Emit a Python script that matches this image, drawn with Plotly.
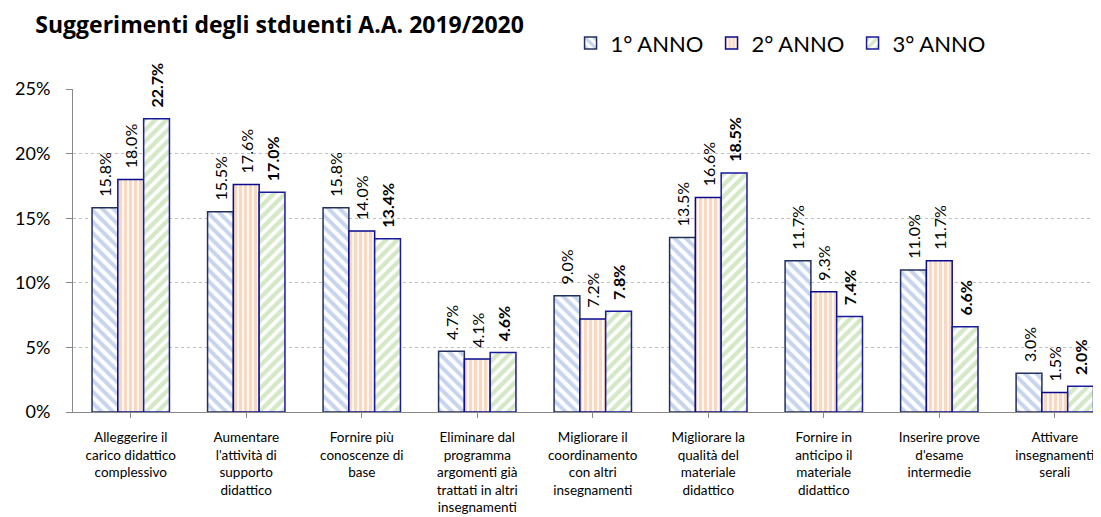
import plotly.graph_objects as go

categories = [
    "Alleggerire il<br>carico didattico<br>complessivo",
    "Aumentare<br>l'attività di<br>supporto<br>didattico",
    "Fornire più<br>conoscenze di<br>base",
    "Eliminare dal<br>programma<br>argomenti già<br>trattati in altri<br>insegnamenti",
    "Migliorare il<br>coordinamento<br>con altri<br>insegnamenti",
    "Migliorare la<br>qualità del<br>materiale<br>didattico",
    "Fornire in<br>anticipo il<br>materiale<br>didattico",
    "Inserire prove<br>d'esame<br>intermedie",
    "Attivare<br>insegnamenti<br>serali",
]
anno1 = [15.8, 15.5, 15.8, 4.7, 9.0, 13.5, 11.7, 11.0, 3.0]
anno2 = [18.0, 17.6, 14.0, 4.1, 7.2, 16.6, 9.3, 11.7, 1.5]
anno3 = [22.7, 17.0, 13.4, 4.6, 7.8, 18.5, 7.4, 6.6, 2.0]
series_names = ["1° ANNO", "2° ANNO", "3° ANNO"]
y_ticks = [0, 5, 10, 15, 20, 25]
y_ticktext = ["0%", "5%", "10%", "15%", "20%", "25%"]

FONT = "Lato"
NB = "\u00a0\u00a0"
x = list(range(len(categories)))

styles = [
    dict(shape="\\", fg="#8FAADC", line="#22305E", size=8, sol=0.5, tmpl=NB + "%{y:.1f}%"),
    dict(shape="|", fg="#F4B183", line="#0A0A90", size=5, sol=0.68, tmpl=NB + "%{y:.1f}%"),
    dict(shape="/", fg="#A9D18E", line="#1A1AA0", size=8, sol=0.55, tmpl=NB + "<b>%{y:.1f}%</b>"),
]

fig = go.Figure()
for name, vals, st in zip(series_names, [anno1, anno2, anno3], styles):
    fig.add_trace(go.Bar(
        x=x, y=vals, name=name,
        marker=dict(
            color="white",
            line=dict(color=st["line"], width=1.5),
            pattern=dict(shape=st["shape"], fgcolor=st["fg"], bgcolor="white",
                         size=st["size"], solidity=st["sol"], fillmode="overlay"),
        ),
        texttemplate=st["tmpl"], textposition="outside", textangle=-90,
        textfont=dict(family=FONT, size=16, color="black"),
        constraintext="none", cliponaxis=False,
    ))

# page body adds an 8px offset, so the figure is 8px smaller and margins shifted
fig.update_layout(
    width=1093, height=509,
    margin=dict(l=65, r=0, t=81, b=105, autoexpand=False),
    paper_bgcolor="white", plot_bgcolor="white",
    barmode="group", bargap=0.33, bargroupgap=0,
    font=dict(family=FONT, color="black"),
    title=dict(text="<b>Suggerimenti degli stduenti A.A. 2019/2020</b>",
               x=0.025, xanchor="left", y=0.966, yanchor="middle",
               font=dict(family="Open Sans", size=23, color="black")),
    legend=dict(orientation="h", x=0.484, xanchor="left", y=1.142, yanchor="middle",
                font=dict(family=FONT, size=22, color="black"),
                itemwidth=30, entrywidth=96, tracegroupgap=0,
                bgcolor="rgba(0,0,0,0)"),
    showlegend=True,
)
fig.update_xaxes(
    tickmode="array", tickvals=x, ticktext=categories,
    range=[-0.5, 8.4], tickson="boundaries", ticks="outside", ticklen=5,
    tickcolor="#898989", showline=True, linecolor="#898989", linewidth=1,
    tickfont=dict(family=FONT, size=13.5, color="black"), tickangle=0,
    ticklabelstandoff=8,
    showgrid=False, fixedrange=True, automargin=False,
)
fig.update_yaxes(
    range=[0, 25], tickmode="array", tickvals=y_ticks, ticktext=y_ticktext,
    ticks="outside", ticklen=6, tickcolor="#898989",
    showline=True, linecolor="#898989", linewidth=1,
    showgrid=True, gridcolor="#BFBFBF", griddash="dot", gridwidth=1,
    tickfont=dict(family=FONT, size=18, color="black"), zeroline=False,
    ticklabelstandoff=12, automargin=False,
)

fig.write_html("out.html")
